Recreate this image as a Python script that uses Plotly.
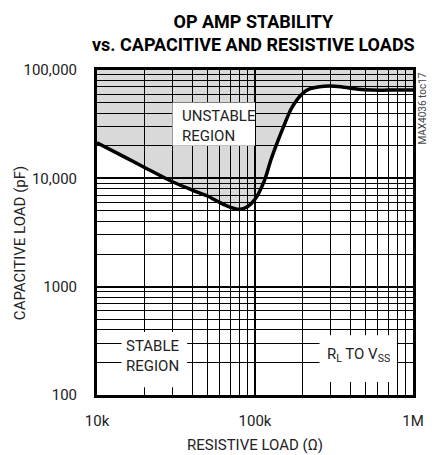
import numpy as np
import plotly.graph_objects as go

# Stability boundary: capacitive load limit vs. resistive load
r_load = [10e3, 15e3, 20e3, 30e3, 40e3, 50e3, 60e3, 70e3, 80e3, 90e3, 100e3,
          115e3, 126e3, 139e3, 153e3, 168e3, 184e3, 202e3, 222e3, 256e3,
          295e3, 350e3, 450e3, 550e3, 700e3, 1e6]
c_load = [21300, 15700, 12600, 9300, 7800, 6870, 5960, 5400, 5170, 5500, 6400,
          9640, 14750, 21800, 31000, 42700, 52800, 61600, 66800, 70100,
          71100, 70000, 66500, 65300, 65200, 65200]

c_top = 100000  # upper end of the capacitance axis

x_tickvals = [1e4, 1e5, 1e6]
x_ticktext = ["10k", "100k", "1M"]
y_tickvals = [100, 1000, 10000, 100000]
y_ticktext = ["100", "1000", "10,000", "100,000"]

FONT = "Roboto, Liberation Sans, sans-serif"

fig = go.Figure()

# invisible upper boundary for the unstable-region fill
fig.add_trace(go.Scatter(
    x=r_load, y=[c_top] * len(r_load), mode="lines",
    line=dict(width=0, color="rgba(0,0,0,0)"), hoverinfo="skip", showlegend=False))

fig.add_trace(go.Scatter(
    x=r_load, y=c_load, mode="lines",
    line=dict(color="black", width=3.5, shape="spline", smoothing=0.8),
    fill="tonexty", fillcolor="rgba(0,0,0,0.15)", showlegend=False))

grid_minor = dict(showgrid=True, gridcolor="black", gridwidth=1, dtick="D1", ticks="")

fig.update_xaxes(
    type="log", range=[4, 6], tickvals=x_tickvals, ticktext=x_ticktext,
    showgrid=True, gridcolor="black", gridwidth=1.5, minor=grid_minor,
    showline=True, linecolor="black", linewidth=3, mirror=True,
    ticks="", ticklabelstandoff=10, zeroline=False,
    tickfont=dict(family=FONT, size=15, color="#222"))
fig.update_yaxes(
    type="log", range=[2, 5], tickvals=y_tickvals, ticktext=y_ticktext,
    showgrid=True, gridcolor="black", gridwidth=1.5, minor=grid_minor,
    showline=True, linecolor="black", linewidth=3, mirror=True,
    ticks="", ticklabelstandoff=14, zeroline=False,
    tickfont=dict(family=FONT, size=15, color="#222"))

# white label boxes
boxes = [
    (30e3, 100e3, 20000, 50000),
    (14.3e3, 37.2e3, 118, 381),
    (256e3, 791e3, 132, 357),
]
for x0, x1, y0, y1 in boxes:
    fig.add_shape(type="rect", xref="x", yref="y", x0=x0, x1=x1, y0=y0, y1=y1,
                  fillcolor="white", line=dict(width=0), layer="above")

label_font = dict(family=FONT, size=15, color="#222")
fig.add_annotation(x=4.528, y=4.483, xref="x", yref="y", text="UNSTABLE<br>REGION",
                   showarrow=False, xanchor="left", yanchor="middle", align="left",
                   font=label_font)
fig.add_annotation(x=4.357, y=2.359, xref="x", yref="y", text="STABLE<br>REGION",
                   showarrow=False, xanchor="center", yanchor="middle", align="center",
                   font=label_font)
fig.add_annotation(x=5.652, y=2.368, xref="x", yref="y",
                   text="R<sub>L</sub> TO V<sub>SS</sub>",
                   showarrow=False, xanchor="center", yanchor="middle", font=label_font)

# axis titles
fig.add_annotation(x=0.5, y=-0.154, xref="paper", yref="paper",
                   text="RESISTIVE LOAD (Ω)", showarrow=False,
                   xanchor="center", yanchor="middle", font=label_font)
fig.add_annotation(x=-0.245, y=0.466, xref="paper", yref="paper",
                   text="CAPACITIVE LOAD (pF)", showarrow=False, textangle=-90,
                   xanchor="center", yanchor="middle", font=label_font)

# chart title
fig.add_annotation(x=0.494, y=1.114, xref="paper", yref="paper",
                   text="<b>OP AMP STABILITY<br>vs. CAPACITIVE AND RESISTIVE LOADS</b>",
                   showarrow=False, xanchor="center", yanchor="middle", align="center",
                   font=dict(family=FONT, size=18, color="black"))

# figure code
fig.add_annotation(x=1.03, y=0.883, xref="paper", yref="paper",
                   text="MAX4036 toc17", showarrow=False, textangle=-90,
                   xanchor="center", yanchor="middle",
                   font=dict(family=FONT, size=10, color="#444"))

fig.update_layout(
    width=436, height=455,
    margin=dict(l=97, r=13, t=70, b=60),
    paper_bgcolor="white", plot_bgcolor="white",
    showlegend=False,
)

fig.write_html("out.html")
